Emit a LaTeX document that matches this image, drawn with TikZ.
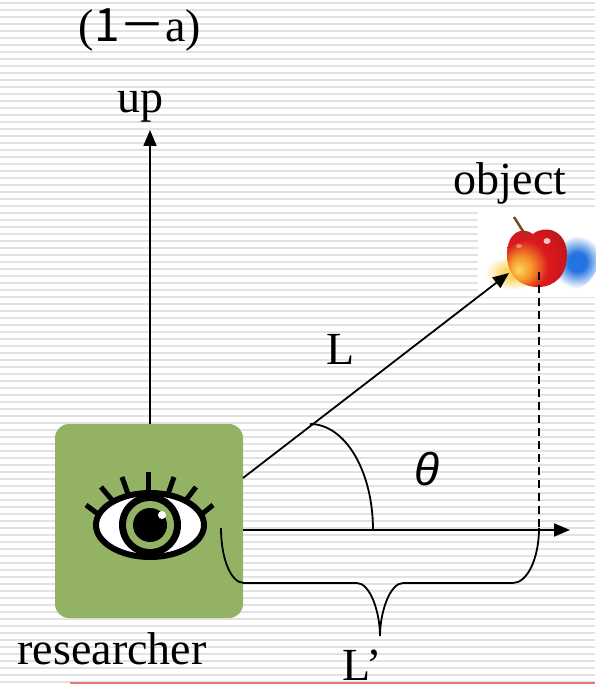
\documentclass[tikz,border=0pt]{standalone}
\usepackage{fontspec}
\setmainfont{Liberation Serif}
\newfontfamily\cjk{Noto Sans CJK SC}
\newfontfamily\sansf{Liberation Sans}
\usetikzlibrary{arrows.meta,shapes.geometric}
\definecolor{boxgreen}{RGB}{148,178,100}
\definecolor{stripegray}{RGB}{226,226,226}
\definecolor{redline}{RGB}{232,120,120}
\definecolor{shadowblue}{RGB}{35,115,225}
\definecolor{shadowyellow}{RGB}{250,215,100}
\definecolor{appleorange}{RGB}{245,150,40}
\definecolor{applered}{RGB}{220,25,30}
\definecolor{appledark}{RGB}{120,10,20}
\definecolor{stembrown}{RGB}{130,70,30}
\pgfdeclareradialshading{blueshadow}{\pgfpoint{0bp}{0bp}}{color(0bp)=(shadowblue); color(9bp)=(shadowblue); color(25bp)=(white); color(50bp)=(white)}
\pgfdeclareradialshading{yellowshadow}{\pgfpoint{0bp}{0bp}}{color(0bp)=(shadowyellow); color(8bp)=(shadowyellow); color(25bp)=(white); color(50bp)=(white)}
\pgfdeclareradialshading{appleshade}{\pgfpoint{-16bp}{-12bp}}{color(0bp)=(shadowyellow); color(9bp)=(appleorange); color(20bp)=(applered); color(34bp)=(applered!88!black); color(44bp)=(appledark); color(60bp)=(appledark)}
\begin{document}
\begin{tikzpicture}[x=1pt,y=-1pt,
  lbl/.style={font=\fontsize{46}{50}\selectfont, inner sep=0pt, anchor=base},
  conn/.style={line width=1.8pt, -{Triangle[length=16pt,width=13pt]}},
  thinline/.style={line width=1.8pt},
  stripe/.style={stripegray, line width=2pt},
  lash/.style={line width=5pt}]
\useasboundingbox (0,0) rectangle (595,684);
\fill[white] (0,0) rectangle (595,684);
\foreach \yy in {3,10,...,683} \draw[stripe] (0,\yy) -- (595,\yy);
% apple picture
\fill[white] (478,211) rectangle (595,297);
\shade[shading=blueshadow, rotate around={-25:(577,262)}] (577,262) ellipse [x radius=21pt, y radius=29pt];
\shade[shading=yellowshadow] (512,273) ellipse [x radius=27pt, y radius=17pt];
\node[inner sep=0pt, minimum size=56pt] (apple) at (537,257) {};
\shade[shading=appleshade]
  (533,234) .. controls (545,224) and (567,230) .. (567,255)
  .. controls (567,275) and (555,287) .. (538,287)
  .. controls (518,287) and (507,273) .. (507,255)
  .. controls (507,232) and (522,226) .. (533,234) -- cycle;
\fill[white, opacity=0.75] (547,241) ellipse [x radius=3.5pt, y radius=3pt];
\fill[white, opacity=0.4] (519,246) ellipse [x radius=3pt, y radius=2pt];
\draw[stembrown, line width=2.5pt] (514,217) -- (526,236);
% researcher box
\node[fill=boxgreen, rounded corners=14pt, minimum width=188pt, minimum height=194pt, inner sep=0pt] (res) at (149,521) {};
% eye
\draw[lash] (86,505) -- (98,514);
\draw[lash] (101,487) -- (112,500);
\draw[lash] (122,477) -- (128,494);
\draw[lash] (148,472) -- (148,490);
\draw[lash] (174,477) -- (168,494);
\draw[lash] (196,487) -- (186,500);
\draw[lash] (213,505) -- (202,514);
\draw[line width=6pt, fill=white] (150,525) ellipse [x radius=54pt, y radius=32pt];
\fill (150,525) circle [radius=31pt];
\fill[boxgreen] (150,525) circle [radius=24pt];
\fill (150,525) circle [radius=17pt];
\fill[white] (162,515) circle [radius=4pt];
% coordinates
\coordinate (upend) at (150,130);
\coordinate (Ls) at (243,478);
\coordinate (Le) at (509,273);
\coordinate (hs) at (243,530);
\coordinate (he) at (570,530);
\coordinate (ds) at (539,272);
\coordinate (de) at (539,530);
\coordinate (as) at (310,424);
\coordinate (ae) at (373,530);
\coordinate (bl) at (221,528);
\coordinate (bt) at (380,636);
\coordinate (br) at (539,528);
% connectors
\draw[conn] (res.north -| upend) -- (upend);
\draw[conn] (Ls) -- (Le);
\draw[conn] (hs) -- (he);
\draw[thinline, dash pattern=on 8pt off 5pt] (ds) -- (de);
\draw[thinline] (as) .. controls (345,424) and (373,471) .. (ae);
\draw[thinline] (bl) .. controls (221,559) and (231,583) .. (244,583) -- (357,583)
  .. controls (370,583) and (380,612) .. (bt)
  .. controls (380,612) and (390,583) .. (403,583) -- (513,583)
  .. controls (527,583) and (539,559) .. (br);
% labels
\node[lbl] (title) at (140,42) {(\cjk 1－\rmfamily a)};
\node[lbl] (up) at (140,113) {up};
\node[lbl] (obj) at (510,195) {object};
\node[lbl] (L) at (341,364) {L};
\node[lbl, font=\sansf\itshape\fontsize{46}{50}\selectfont] (theta) at (427,485) {θ};
\node[lbl] (researcher) at (112,664) {researcher};
\node[lbl] (Lp) at (362,680) {L’};
\draw[redline, line width=2pt] (70,683) -- (595,683);
\end{tikzpicture}
\end{document}
